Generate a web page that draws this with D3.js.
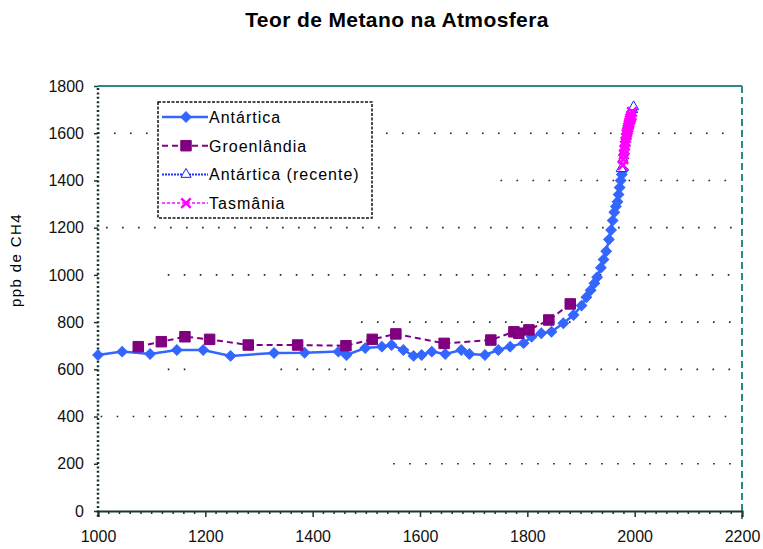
<!DOCTYPE html>
<html lang="pt">
<head>
<meta charset="utf-8">
<title>Teor de Metano na Atmosfera</title>
<style>
  body { margin: 0; background: #fff; }
  svg { display: block; font-family: "Liberation Sans", Arial, sans-serif; }
</style>
</head>
<body>
<div id="chart"></div>
<script src="https://d3js.org/d3.v7.min.js"></script>
<script>
// ---- data ----
var antYears  = [1000, 1045, 1097, 1147, 1196, 1247, 1328, 1385, 1448, 1463, 1498, 1529, 1547, 1569, 1588, 1603,
                 1622, 1647, 1677, 1692, 1721, 1746, 1768, 1793, 1808, 1826, 1845, 1867, 1886, 1901, 1910, 1918,
                 1925, 1930, 1937, 1942, 1947, 1952, 1956, 1959, 1962, 1965, 1968, 1969, 1970, 1972, 1974, 1976, 1979];
var antValues = [661, 675, 665, 682, 682, 657, 669, 670, 675, 661, 690, 696, 703, 682, 657, 661,
                 675, 665, 682, 665, 661, 682, 696, 711, 738, 753, 759, 795, 830, 870, 905, 935,
                 965, 990, 1030, 1065, 1100, 1150, 1190, 1230, 1265, 1290, 1310, null, 1340, 1370, 1400, 1425, 1444];

var groYears  = [1075, 1118, 1162, 1208, 1280, 1372, 1462, 1511, 1555, 1645, 1732, 1775, 1784, 1803, 1840, 1880];
var groValues = [696, 717, 738, 727, 703, 703, 700, 727, 750, 710, 724, 759, 753, 767, 809, 877];

var recYears  = [1975, 1978, 1980, 1982, 1984, 1986, 1988, 1990, 1992, 1994, 1996, 1998];
var recValues = [1450, 1490, 1520, 1555, 1585, 1610, 1635, 1655, 1670, 1685, 1700, 1712];

var tasYears  = [1978, 1979, 1980, 1981, 1982, 1983, 1984, 1985, 1986, 1987, 1988, 1989, 1990, 1991, 1992, 1993, 1994, 1995];
var tasValues = [1465, 1490, 1510, 1530, 1548, 1565, 1580, 1595, 1605, 1615, 1625, 1635, 1645, 1655, 1662, 1668, 1676, 1690];

var seriesNames = ["Antártica", "Groenlândia", "Antártica (recente)", "Tasmânia"];
var xTicks = [1000, 1200, 1400, 1600, 1800, 2000, 2200];
var yTicks = [0, 200, 400, 600, 800, 1000, 1200, 1400, 1600, 1800];

// dotted gridlines only show from some year on in the original
var gridLevels = [200, 400, 600, 600, 800, 1000, 1200, 1400, 1600];
var gridFrom   = [1550, 1005, 1130, 1340, 1490, 1130, 1015, 1750, 1000];
var gridTo     = [2200, 2200, 1190, 2200, 2200, 2200, 2200, 2200, 2200];

function zip(xs, ys) {
  return xs.map(function(d, i) { return {year: d, value: ys[i]}; });
}

var W = 763, H = 549;
var svg = d3.select("#chart").append("svg").attr("width", W).attr("height", H);

var x = d3.scaleLinear().domain([1000, 2200]).range([98, 742]);
var y = d3.scaleLinear().domain([0, 1800]).range([511, 86]);

// title
svg.append("text")
  .attr("x", 397).attr("y", 27)
  .attr("text-anchor", "middle")
  .style("font-size", "21px").style("font-weight", "bold").style("letter-spacing", "0.4px")
  .text("Teor de Metano na Atmosfera");

// y label
svg.append("text")
  .attr("transform", "translate(21,260) rotate(-90)")
  .attr("text-anchor", "middle")
  .style("font-size", "15px").style("letter-spacing", "1.4px")
  .text("ppb de CH4");

// gridlines
svg.append("g").selectAll("line")
  .data(gridLevels)
  .enter().append("line")
    .attr("x1", function(d, i) { return x(gridFrom[i]); })
    .attr("x2", function(d, i) { return x(gridTo[i]) - 4; })
    .attr("y1", function(d) { return y(d); })
    .attr("y2", function(d) { return y(d); })
    .attr("stroke", "#222")
    .attr("stroke-width", 1.6)
    .attr("stroke-dasharray", "1.6,14.4");

// plot frame: teal top & right
svg.append("line")
  .attr("x1", x(1000)).attr("x2", x(2200)).attr("y1", y(1800)).attr("y2", y(1800))
  .attr("stroke", "#2a8a8a").attr("stroke-width", 2);
svg.append("line")
  .attr("x1", x(2200)).attr("x2", x(2200)).attr("y1", y(1800)).attr("y2", y(0) + 8)
  .attr("stroke", "#2a8a8a").attr("stroke-width", 2).attr("stroke-dasharray", "7,4");

// x axis
var xAxis = svg.append("g")
  .attr("transform", "translate(0," + y(0) + ")")
  .call(d3.axisBottom(x).tickValues(xTicks).tickFormat(d3.format("d")).tickSize(6).tickPadding(14));
xAxis.select(".domain").attr("stroke", "#1c3434").attr("stroke-width", 2);
xAxis.selectAll(".tick line").attr("stroke", "#1c3434").attr("stroke-width", 1.5);
xAxis.selectAll("text").style("font-size", "16px").style("font-family", "Liberation Sans, Arial, sans-serif").attr("fill", "#111");

// minor ticks every 20 years
svg.append("g").selectAll("line")
  .data(d3.range(1020, 2200, 20).filter(function(d) { return d % 200 !== 0; }))
  .enter().append("line")
    .attr("x1", function(d) { return x(d); }).attr("x2", function(d) { return x(d); })
    .attr("y1", y(0)).attr("y2", y(0) + 3)
    .attr("stroke", "#1c3434").attr("stroke-width", 1.5);

// y axis (dotted)
var yAxis = svg.append("g")
  .attr("transform", "translate(" + x(1000) + ",0)")
  .call(d3.axisLeft(y).tickValues(yTicks).tickFormat(d3.format("d")).tickSize(4).tickPadding(10));
yAxis.select(".domain").remove();
yAxis.selectAll(".tick line").attr("stroke", "#1c3434").attr("stroke-width", 1.5);
yAxis.selectAll("text").style("font-size", "16px").style("font-family", "Liberation Sans, Arial, sans-serif").attr("fill", "#111");
svg.append("line")
  .attr("x1", x(1000)).attr("x2", x(1000)).attr("y1", y(1800) + 2).attr("y2", y(0) + 6)
  .attr("stroke", "#133030").attr("stroke-width", 2.5).attr("stroke-dasharray", "2,2.4");

// series
var line = d3.line()
  .defined(function(d) { return d.value !== null; })
  .x(function(d) { return x(d.year); })
  .y(function(d) { return y(d.value); });

var diamond = d3.symbol().type(d3.symbolSquare).size(55);
var square = d3.symbol().type(d3.symbolSquare).size(110);
var triangle = d3.symbol().type(d3.symbolTriangle).size(45);
var cross = d3.symbol().type(d3.symbolX).size(60);

var series = [
  {name: seriesNames[0], data: zip(antYears, antValues), color: "#3366ff", width: 2.5, dash: null,
   sym: diamond, rot: 45, fill: "#3366ff", mstroke: "#3366ff"},
  {name: seriesNames[1], data: zip(groYears, groValues), color: "#800080", width: 2, dash: "6,4",
   sym: square, rot: 0, fill: "#800080", mstroke: "#800080"},
  {name: seriesNames[2], data: zip(recYears, recValues), color: "#2233ff", width: 2, dash: "2,1",
   sym: triangle, rot: 0, fill: "#ffffff", mstroke: "#1122ee"},
  {name: seriesNames[3], data: zip(tasYears, tasValues), color: "#ff44ff", width: 2, dash: "3,2",
   sym: cross, rot: 0, fill: "none", mstroke: "#ff00ff"}
];

series.forEach(function(s) {
  svg.append("path")
    .datum(s.data)
    .attr("d", line)
    .attr("fill", "none")
    .attr("stroke", s.color)
    .attr("stroke-width", s.width)
    .attr("stroke-dasharray", s.dash);
  svg.append("g").selectAll("path")
    .data(s.data.filter(function(d) { return d.value !== null; }))
    .enter().append("path")
      .attr("d", s.sym)
      .attr("transform", function(d) { return "translate(" + x(d.year) + "," + y(d.value) + ") rotate(" + s.rot + ")"; })
      .attr("fill", s.fill)
      .attr("stroke", s.mstroke)
      .attr("stroke-width", s.fill === "none" ? 2.5 : 1);
});

// legend
var lg = svg.append("g").attr("transform", "translate(158,102)");
lg.append("rect")
  .attr("width", 214).attr("height", 116)
  .attr("fill", "#fff").attr("stroke", "#111").attr("stroke-width", 1.5).attr("stroke-dasharray", "3,1.5");
series.forEach(function(s, i) {
  var cy = 15 + i * 28.7;
  lg.append("line")
    .attr("x1", 4).attr("x2", 50).attr("y1", cy).attr("y2", cy)
    .attr("stroke", s.color).attr("stroke-width", s.width).attr("stroke-dasharray", s.dash);
  lg.append("path")
    .attr("d", s.sym)
    .attr("transform", "translate(28," + cy + ") rotate(" + s.rot + ")")
    .attr("fill", s.fill).attr("stroke", s.mstroke)
    .attr("stroke-width", s.fill === "none" ? 2.5 : 1);
  lg.append("text")
    .attr("x", 51).attr("y", cy + 6)
    .style("font-size", "16px").style("letter-spacing", "1px")
    .text(s.name);
});
</script>
</body>
</html>
